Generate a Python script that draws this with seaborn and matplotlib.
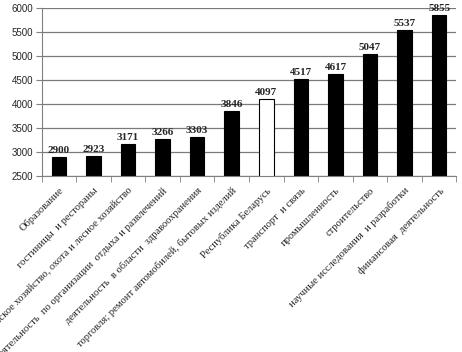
import matplotlib
matplotlib.use("Agg")
import matplotlib.pyplot as plt
import seaborn as sns
import numpy as np

# --- data -------------------------------------------------------------------
sectors = [
    "Образование",
    "гостиницы  и рестораны",
    "сельское хозяйство, охота и лесное хозяйство",
    "деятельность  по организации  отдыха и развлечений",
    "деятельность  в области  здравоохранения",
    "торговля; ремонт автомобилей, бытовых изделий",
    "Республика Беларусь",
    "транспорт  и связь",
    "промышленность",
    "строительство",
    "научные исследования  и разработки",
    "финансовая  деятельность",
]
wages = [2900, 2923, 3171, 3266, 3303, 3846, 4097, 4517, 4617, 5047, 5537, 5855]
bar_colors = ["black"] * 6 + ["white"] + ["black"] * 5

# --- plot -------------------------------------------------------------------
sns.set_style("white")
plt.rcParams["font.family"] = ["Liberation Serif", "DejaVu Serif"]

fig, ax = plt.subplots(figsize=(4.62, 3.52), dpi=100)
fig.subplots_adjust(left=0.09, right=0.988, top=0.977, bottom=0.5)

sns.barplot(x=sectors, y=wages, hue=sectors, palette=bar_colors,
            edgecolor="black", linewidth=0.8, width=0.42, legend=False,
            saturation=1, ax=ax)

ax.set_ylim(2500, 6000)
ax.set_yticks(np.arange(2500, 6001, 500))
ax.yaxis.grid(True, color="#7a7a7a", linewidth=0.9)
ax.set_axisbelow(True)
ax.set_xlim(-0.5, len(sectors) - 0.5)

for i, v in enumerate(wages):
    ax.text(i, v + 45, str(v), ha="center", va="bottom",
            fontsize=8, fontweight="bold")

# category labels at bar centres, tick marks at the boundaries
ax.set_xticks(range(len(sectors)))
ax.set_xticklabels(sectors, rotation=45, ha="right", rotation_mode="anchor",
                   fontsize=7.6)
ax.tick_params(axis="x", length=0, pad=7)
ax.set_xticks(np.arange(-0.5, len(sectors), 1.0), minor=True)
ax.tick_params(axis="x", which="minor", length=4, color="#808080", bottom=True)

for lbl in ax.get_yticklabels():
    lbl.set_family(["Liberation Sans", "DejaVu Sans"])
    lbl.set_fontsize(7)
ax.tick_params(axis="y", length=4, color="#808080", left=True, pad=2)

for side in ["top", "right"]:
    ax.spines[side].set_visible(False)
ax.spines["left"].set_color("#808080")
ax.spines["bottom"].set_color("#808080")

fig.savefig("out.png", dpi=100)
